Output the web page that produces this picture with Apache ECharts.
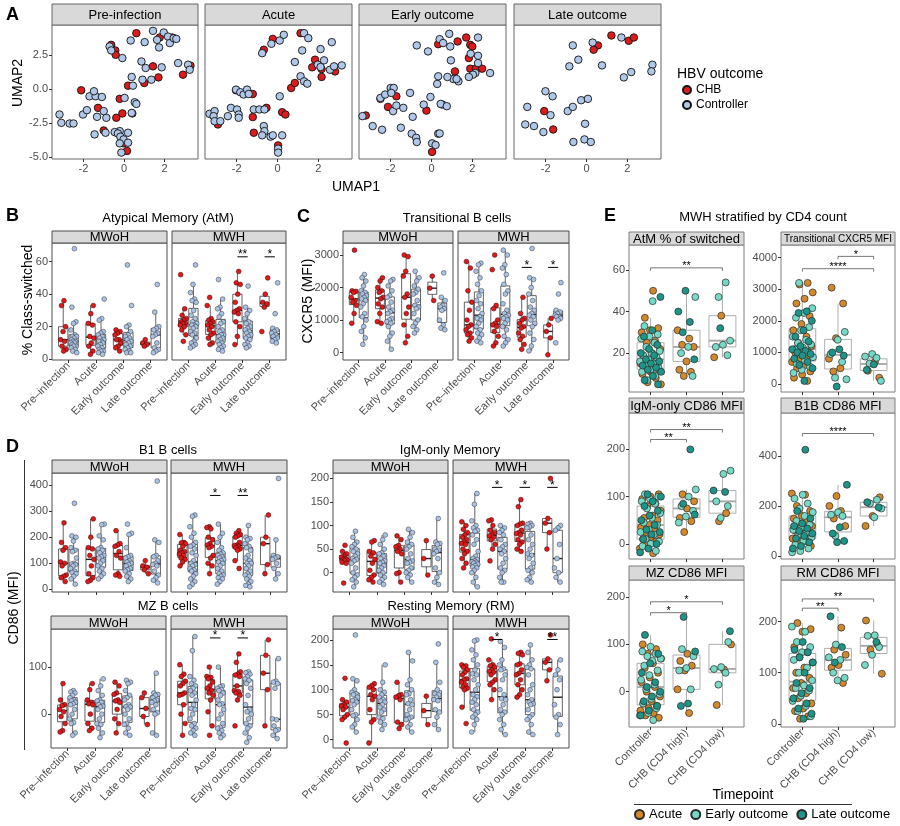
<!DOCTYPE html>
<html>
<head>
<meta charset="UTF-8">
<title>B cell phenotypes by HBV outcome</title>
<script src="https://cdn.jsdelivr.net/npm/echarts@6/dist/echarts.min.js"></script>
<style>
  html, body { margin: 0; padding: 0; background: #fff; }
  #main { width: 900px; height: 826px; }
</style>
</head>
<body>
<div id="main"></div>
<script>
// ---------- data ----------
var timepoints = ['Pre\u2013infection', 'Acute', 'Early outcome', 'Late outcome'];
var eGroups = ['Controller', 'CHB (CD4 high)', 'CHB (CD4 low)'];

// A: UMAP coordinates [UMAP1, UMAP2]
var umapPreCtrl = [[-3.18,-1.88],[-3.09,-2.49],[-2.68,-2.54],[-2.49,-2.54],[-1.70,-0.54],[-2.02,-1.88],[-1.83,-1.56],[-1.33,-2.05],[-1.40,-0.54],[-1.09,-0.59],[-0.87,-2.12],[-1.00,-1.63],[-1.48,-0.17],[-0.71,3.12],[-0.63,2.83],[-0.21,-3.10],[-0.46,-3.17],[-0.08,2.27],[-0.30,-3.27],[-0.18,-3.51],[-0.02,-3.71],[0.20,-3.22],[-0.21,-4.00],[-0.13,-4.68],[0.20,-3.95],[0.03,-0.66],[0.38,0.88],[0.44,0.24],[0.53,-0.98],[0.61,-1.10],[0.38,-1.76],[0.33,3.56],[1.02,3.44],[1.43,4.27],[1.63,3.61],[1.73,3.05],[1.96,4.15],[2.17,3.85],[2.26,3.37],[2.45,3.73],[2.58,3.68],[0.86,2.02],[1.07,1.54],[0.91,0.68],[1.35,0.68],[1.86,1.59],[2.67,1.90],[3.16,1.78],[3.24,1.41],[-0.91,-3.22],[-1.45,-3.34]];
var umapPreChb = [[-2.11,-0.10],[-0.63,3.24],[-0.43,2.83],[-0.41,2.51],[0.61,4.10],[-1.28,-1.39],[-0.38,-2.12],[-0.21,-0.73],[0.20,0.24],[-0.08,-1.80],[0.41,-1.80],[-1.00,-3.05],[0.15,-4.56],[1.00,0.44],[1.43,1.66],[1.70,0.85],[1.76,3.78],[2.39,3.78],[2.91,1.05],[3.28,1.71],[-0.02,-4.00]];
var umapAcuteCtrl = [[-3.33,-1.83],[-3.08,-1.63],[-3.13,-2.00],[-3.08,-2.37],[-2.80,-2.37],[-2.43,-2.00],[-2.28,-1.39],[-1.98,-1.51],[-1.90,-1.88],[-1.90,-2.12],[-2.03,-0.05],[-1.82,-0.24],[-1.66,-0.41],[-1.49,-0.05],[-1.41,-0.37],[-1.16,-1.51],[-0.89,-1.51],[-0.64,-1.51],[-0.67,-2.73],[-0.64,-3.10],[-0.75,-3.41],[-0.34,-3.51],[-0.23,-3.41],[0.23,-3.41],[0.03,-4.39],[0.03,-4.68],[0.11,-0.54],[-0.75,2.63],[-0.30,3.32],[0.11,3.56],[0.31,3.98],[1.30,4.10],[1.51,3.73],[1.21,2.83],[0.85,1.98],[1.13,0.93],[1.30,0.56],[1.46,0.39],[2.11,2.93],[2.28,2.10],[1.97,1.78],[2.11,1.61],[2.66,3.44],[2.57,1.41],[2.77,1.66],[3.15,1.73]];
var umapAcuteChb = [[-2.92,-2.61],[-2.03,-0.10],[-1.21,-0.37],[-1.21,-2.07],[-1.16,-3.22],[-0.54,-1.39],[-0.23,3.68],[-0.67,2.88],[0.23,-1.71],[0.39,-1.88],[0.03,-4.15],[0.67,0.07],[0.85,0.44],[1.13,4.10],[1.84,2.15],[1.70,1.59],[2.16,1.46],[2.16,0.88],[2.82,1.29]];
var umapEarlyCtrl = [[-3.38,-2.00],[-2.88,-2.73],[-2.42,-3.00],[-2.50,-0.66],[-2.27,-0.41],[-2.00,0.07],[-1.85,0.07],[-1.97,-0.29],[-1.88,-1.63],[-1.72,-1.22],[-1.38,-1.39],[-1.50,-2.85],[-1.05,-0.29],[-0.92,-2.05],[-0.97,-3.29],[-0.75,-3.59],[-0.72,-3.90],[-0.38,-1.15],[-0.05,-0.59],[0.03,-4.00],[0.20,-4.12],[0.33,-3.29],[0.28,0.37],[0.33,0.93],[0.53,-1.15],[-0.72,3.20],[-0.17,2.76],[0.40,3.66],[0.87,4.05],[0.57,3.37],[0.92,3.12],[0.95,2.10],[2.28,3.78],[1.92,2.59],[2.28,2.44],[2.28,1.90],[2.87,1.17],[2.15,1.17],[2.03,1.05],[1.83,0.88],[1.32,0.56],[1.07,0.73],[1.23,0.73],[0.78,0.88],[0.45,-1.10],[0.75,-1.27],[0.40,-3.27]];
var umapEarlyChb = [[-2.50,-0.73],[-2.13,-1.32],[-1.72,-0.54],[-3.22,-1.95],[-0.25,-1.59],[0.03,-4.63],[0.33,3.29],[1.28,3.49],[1.70,3.78],[1.90,3.24],[2.00,3.12],[1.83,2.27],[1.15,1.29],[1.90,1.49],[2.17,1.49],[2.48,1.49]];
var umapLateCtrl = [[-0.67,3.20],[0.30,3.41],[1.71,3.78],[-0.40,2.15],[-0.84,1.66],[0.76,1.73],[1.83,0.85],[2.19,1.24],[3.23,1.78],[3.18,1.29],[-2.01,-0.17],[-1.66,-0.54],[-2.90,-1.32],[-1.76,-1.93],[-0.92,-1.63],[-0.67,-1.32],[-0.26,-0.83],[0.07,-0.73],[-3.00,-2.61],[-2.57,-2.73],[-2.11,-3.17],[-0.07,-2.56],[-0.64,-3.90],[-0.10,-3.71],[0.21,-3.90]];
var umapLateChb = [[1.22,3.93],[0.56,3.20],[0.35,2.88],[2.07,3.54],[2.32,3.78],[-2.07,-1.63],[-1.63,-2.98]];

// B: AtM % class-switched, per timepoint
var atmWoChb = [[36,33,20,17,12,11,8,6,5],[33,28,22,21,14,13,10,8,5,3],[18,17,16,15,12,12,10,8,7,5],[12,10,9,8]];
var atmWoCtrl = [[68,32,23,22,18,15,14,14,13,12,11,11,10,10,9,8,8,7,6,5,4],[37,25,24,17,16,15,14,13,12,11,11,10,9,8,7,6,5,5,4,3],[58,33,21,20,17,15,14,13,12,11,10,9,8,7,6,5,4,4],[46,29,20,19,18,16,15,14,10,7,6,5,4]];
var atmWhChb = [[52,31,27,25,24,23,22,22,21,20,18,15,11],[38,33,25,24,23,22,21,20,18,16,15,13,10,9],[54,47,46,40,35,31,30,29,28,23,20,14,9],[50,40,35,34,32,17]];
var atmWhCtrl = [[58,46,41,37,36,35,30,27,25,23,22,21,21,20,19,17,16,15,13,11,10,9,8,7],[49,37,32,31,28,26,23,22,20,18,17,15,15,14,13,12,11,10,9,8,7,6,5],[45,32,30,28,25,23,22,20,19,18,17,16,15,14,13,12,10,9,8,7],[47,28,19,18,17,16,15,14,13,12,11,10]];

// C: Transitional B cells CXCR5 MFI
var cxWoChb = [[3150,1900,1880,1850,1700,1600,1550,1450,1200,900],[2300,2200,2000,1900,1850,1700,1650,1500,1400,1200,950,900],[3000,2950,2500,2350,1800,1700,1400,1200,850,500,300],[2350,1980,1600]];
var cxWoCtrl = [[2400,2300,2200,2050,1900,1850,1800,1750,1700,1650,1600,1500,1400,1200,1100,1000,800,650,450,250],[2250,2200,2050,1900,1750,1700,1550,1400,1300,1250,1200,1050,1000,950,900,800,600,500,350,100],[2500,2300,2200,2050,1950,1850,1800,1600,1450,1400,1350,1200,1000,900,800,700,600],[2450,1700,1600,1450,1400,1350,1300,1000,850,750,700]];
var cxWhChb = [[2800,2600,1900,1550,1300,1000,850,800,700,600,550,450,350],[3000,2550,1450,1350,1000,900,850,800,650,500,300,200],[1700,1200,1050,1000,900,800,750,600,500,400,250,100],[1050,850,650,450,-70]];
var cxWhCtrl = [[2750,2700,2500,2300,2100,1900,1750,1600,1500,1350,1200,1100,1050,1000,900,800,700,600,550,450,350,300],[3150,3000,2700,2600,2400,2100,1900,1800,1500,1300,1200,1150,1100,1050,1000,900,800,700,500,400,300,200],[3200,2300,2250,2000,1800,1600,1400,1300,1200,1150,1100,1000,900,800,600,400,200,50],[2150,1800,1300,1250,1200,1150,1100,1100,1050,1000,300]];

// D: CD86 MFI
var b1WoChb = [[255,180,160,150,105,100,90,55,50,45,30],[270,200,160,155,130,115,90,60,45,35,30],[225,175,170,165,145,130,120,60,55,50],[110,90,85,75,60]];
var b1WoCtrl = [[330,205,200,185,160,150,145,120,100,97,95,90,80,70,65,60,50,40,20],[250,248,205,190,160,155,150,140,130,125,120,110,100,90,80,70,60,50,40],[250,215,210,160,130,125,120,110,105,100,95,90,80,75,70,60,50,40,30],[415,190,180,130,125,110,100,95,90,70,55,45,35,25]];
var b1WhChb = [[210,180,178,175,165,150,145,140,135,130,120,115,105,90],[240,237,232,200,190,175,170,165,160,130,120,100,90,60],[225,215,210,205,200,180,170,168,165,160,155,150,110,80],[285,200,175,95,60]];
var b1WhCtrl = [[285,280,240,215,200,180,170,165,155,140,130,110,100,95,90,80,75,70,60,50,40,30,20,10],[250,215,200,180,160,150,140,135,130,125,120,115,110,105,100,90,80,70,60,55,50,45,40,30,20],[245,200,195,190,175,165,160,150,130,120,110,100,100,90,80,70,60,55,50,40,30,20,15,10],[425,190,130,125,120,115,100,80,60,40]];

var igWoChb = [[58,45,40,35,33,30,28,27,25,22,20,-22],[68,65,45,42,35,28,20,5,-5,-10,-15,-20],[78,70,58,55,50,45,40,0,-2,-20],[68,30,-5]];
var igWoCtrl = [[88,75,65,60,55,50,45,40,35,30,28,25,20,10,0,-5,-10,-15,-20,-30],[80,70,60,50,42,40,35,30,25,22,20,15,10,5,0,-5,-10,-15,-20,-25],[92,85,75,65,60,55,50,40,30,25,22,20,10,5,0,-5,-10,-20],[115,65,62,60,50,48,45,40,30,10,0,-10,-20,-25]];
var igWhChb = [[108,100,92,85,80,75,70,65,62,60,50,45,40,30,20,10],[112,110,100,90,85,80,78,75,70,60,50,25],[155,140,105,103,100,90,85,83,80,70,65,60,50,45],[200,115,105,85,50]];
var igWhCtrl = [[168,145,110,100,95,90,88,80,70,60,45,35,30,28,25,23,22,20,18,15,12,10,5,0,-10,-20,-30],[100,95,90,85,80,70,60,55,50,45,40,30,20,10,5,0,-10,-20,-20],[105,103,100,97,95,80,70,60,50,40,37,30,20,10,5,0,-10,-15,-20],[100,95,90,60,30,10,0,-10,-20]];

var mzWoChb = [[65,30,20,18,10,5,-5,-20,-35,-38],[65,52,30,25,22,20,0,-20,-30,-35],[68,60,45,42,30,28,25,10,-10,-20,-40],[45,35,12,-5,-22]];
var mzWoCtrl = [[50,47,45,40,35,30,28,25,22,20,10,0,-10,-18,-20,-40,-45],[75,60,50,40,30,28,25,20,17,15,10,0,-10,-20,-22,-30,-40,-50],[72,68,65,50,40,35,30,20,16,15,10,0,-10,-20,-22,-30,-40,-45],[87,45,42,40,35,30,28,25,20,10,3,0,-40,-45]];
var mzWhChb = [[105,85,80,70,65,60,45,42,40,20,0,-20,-45],[100,80,78,75,68,60,55,50,45,40,30,5,-25,-45],[128,110,90,85,83,80,60,50,48,45,40,30,-25],[158,125,87,52,-25]];
var mzWhCtrl = [[165,135,80,72,65,60,55,50,45,40,30,20,12,10,0,-10,-20,-25,-30,-35,-40,-45],[100,60,58,55,52,50,45,40,30,22,20,10,0,-10,-20,-28,-30,-35,-40,-45,-50],[90,88,85,80,75,72,65,55,40,20,10,5,0,-10,-20,-25,-30,-40,-50,-60],[118,70,68,65,55,-10,-12,-25,-33,-35,-45,-52]];

var rmWoChb = [[123,80,75,70,67,65,60,50,45,40,-7],[112,108,105,100,90,87,80,60,40,35,-7],[115,90,88,85,80,35,30,22],[87,58,30]];
var rmWoCtrl = [[210,122,118,100,95,92,90,85,80,78,75,70,60,50,48,40,30,25,15],[150,115,100,95,90,85,80,77,75,70,65,60,55,45,42,35,30,20],[175,158,120,110,100,92,90,80,72,70,60,50,45,42,40,30,25,15],[192,155,115,100,92,90,85,80,78,60,55,45,30,20]];
var rmWhChb = [[150,148,145,140,135,130,122,120,115,110,105,103,100,65,32],[202,160,150,148,145,140,137,135,130,120,115,110,100,80],[175,173,170,152,150,140,133,130,120,110,100,90,85],[210,162,155,140,118]];
var rmWhCtrl = [[200,198,180,170,160,150,140,132,130,120,110,100,90,86,80,75,70,60,55,50,45,40,30,15],[197,185,160,150,142,140,130,120,100,90,82,80,70,60,55,50,40,30,20,10],[190,175,160,150,145,142,130,110,100,90,80,75,72,70,60,50,45,40,30,15,10],[160,140,130,120,100,70,50,45,30,10]];

// E: MWH stratified by CD4 count; A = acute, E = early outcome, L = late outcome
var eAtmCtrl = {A:[50,37,32,31,30,26,25,22,20,18,17,16,15,14,13,12,11,10,8,6,5], E:[45,33,29,28,27,25,23,21,20,19,18,17,16,15,14,13,12,11,9,7], L:[47,31,28,24,22,20,19,17,16,15,14,13,12,11,9,7,5]};
var eAtmHigh = {A:[31,27,24,23,16,12,11,9], E:[47,23,20,9], L:[50,40,35,30,17]};
var eAtmLow = {A:[38,18], E:[54,47,26,24,23,19], L:[32]};
var eCxCtrl = {A:[3200,3150,2900,2700,2550,2150,1900,1700,1500,1300,1200,1100,1000,900,800,700,600,500,400,300,200,100], E:[3200,2400,2250,2100,1800,1700,1500,1400,1300,1250,1150,1100,1000,950,850,750,650,550,450,350], L:[2300,2250,2000,1700,1500,1350,1200,1100,1050,1000,950,900,800,700,600,500,100]};
var eCxHigh = {A:[3050,2550,1450,800,500,400], E:[1650,1400,950,700,200,150], L:[1100,1000,900,-80]};
var eCxLow = {A:[700,420,200], E:[950,870,830,650,100], L:[620,450]};
var eIgCtrl = {A:[105,100,95,85,80,70,60,55,50,40,35,30,25,20,15,10,5,0,-10,-20], E:[105,100,95,90,85,75,65,55,45,40,30,25,20,10,5,0,-5,-15], L:[105,100,90,80,70,60,50,40,30,25,20,10,0,-10,-18]};
var eIgHigh = {A:[105,90,75,55,48,25], E:[115,100,80,70,58,45], L:[200,85,62]};
var eIgLow = {A:[65,48], E:[155,148,90,80,55], L:[113,110]};
var eB1Ctrl = {A:[250,245,200,180,160,150,140,130,120,110,100,90,80,70,60,50,40], E:[245,230,210,190,175,160,140,125,115,105,95,85,75,60,45,30,20,15], L:[425,180,150,130,120,110,100,90,80,70,55,40,30]};
var eB1High = {A:[240,200,180,150,120], E:[175,165,160,80], L:[285,115,90,60,55]};
var eB1Low = {A:[235,160,120], E:[225,210,190,155], L:[215,195]};
var eMzCtrl = {A:[100,90,80,70,60,50,40,30,20,10,0,-10,-20,-25,-30,-35,-40,-45,-50,-55], E:[95,85,80,75,70,65,55,45,35,25,15,5,-5,-15,-25,-35,-45,-50,-60], L:[120,80,60,40,20,10,0,-10,-20,-30,-40,-50]};
var eMzHigh = {A:[80,65,55,45,5,-45], E:[90,75,50,45,5], L:[158,85,-25,-30]};
var eMzLow = {A:[100,47,-28], E:[105,52,48,40,15], L:[128]};
var eRmCtrl = {A:[197,185,180,150,140,130,120,110,100,90,80,70,60,50,40,30,25,15,10], E:[190,180,160,150,140,125,110,100,85,75,70,65,55,45,35,25,15], L:[160,145,140,130,120,100,80,70,60,50,40,30,20,10]};
var eRmHigh = {A:[188,145,135,115,110,80], E:[155,130,125,100,90,85], L:[210,150,120]};
var eRmLow = {A:[202,155,145,98], E:[173,172,150,135,115], L:[160]};

// ---------- helpers ----------
var FONT = '"Liberation Sans", Arial, Helvetica, sans-serif';
var RED = '#DD1B1B', BLUE = '#A9C3E6';
var TPCOL = {A: '#D3892B', E: '#76D9C6', L: '#1E9387'};
var TPNAME = {A: 'Acute', E: 'Early outcome', L: 'Late outcome'};

var grids = [], xAxes = [], yAxes = [], series = [], graphics = [];

function txt(x, y, s, o) {
  o = o || {};
  graphics.push({
    type: 'text', x: x, y: y, rotation: o.rot || 0, silent: true, z: 20,
    style: {
      text: s, fill: o.color || '#000',
      font: (o.bold ? 'bold ' : '') + (o.size || 13) + 'px ' + FONT,
      textAlign: o.align || 'center', align: o.align || 'center',
      textVerticalAlign: 'middle', verticalAlign: 'middle'
    }
  });
}
function strip(l, r, t, b, label, o) {
  graphics.push({type: 'rect', silent: true, z: 15, shape: {x: l, y: t, width: r - l, height: b - t},
    style: {fill: '#D9D9D9', stroke: o.stroke, lineWidth: 1}});
  txt((l + r) / 2, (t + b) / 2 + 0.5, label, {size: o.size});
}
function hline(x1, x2, y, c) {
  graphics.push({type: 'line', silent: true, z: 15, shape: {x1: x1, y1: y, x2: x2, y2: y}, style: {stroke: c, lineWidth: 1}});
}
function vline(x, y1, y2, c) {
  graphics.push({type: 'line', silent: true, z: 15, shape: {x1: x, y1: y1, x2: x, y2: y2}, style: {stroke: c, lineWidth: 1}});
}

function panel(p) {
  var gi = grids.length;
  grids.push({left: p.l, top: p.t, width: p.r - p.l, height: p.b - p.t, show: true,
    borderColor: p.border, borderWidth: 1, backgroundColor: '#fff'});
  var lab = {fontSize: 11, color: '#4D4D4D', fontFamily: FONT, margin: 4};
  xAxes.push({gridIndex: gi, type: 'value', min: p.x[0], max: p.x[1], position: 'bottom',
    splitLine: {show: false}, axisLine: {show: false, onZero: false},
    axisTick: {show: true, length: 3, customValues: p.xt, lineStyle: {color: '#333'}},
    axisLabel: Object.assign({}, lab, {show: !!p.xlab, customValues: p.xt, rotate: p.xrot || 0,
      formatter: p.xlab || function (v) { return String(v); }})});
  yAxes.push({gridIndex: gi, type: 'value', min: p.y[0], max: p.y[1], position: 'left',
    splitLine: {show: false}, axisLine: {show: false, onZero: false},
    axisTick: {show: !!p.ylab, length: 3, customValues: p.yt, lineStyle: {color: '#333'}},
    axisLabel: Object.assign({}, lab, {show: !!p.ylab, customValues: p.yt,
      formatter: p.ylab || function (v) { return String(v); }})});
  return gi;
}

function quant(arr, p) {
  var s = arr.slice().sort(function (a, b) { return a - b; });
  var h = (s.length - 1) * p, lo = Math.floor(h), hi = Math.ceil(h);
  return s[lo] + (s[hi] - s[lo]) * (h - lo);
}
function boxStats(arr) {
  var q1 = quant(arr, 0.25), md = quant(arr, 0.5), q3 = quant(arr, 0.75), iqr = q3 - q1;
  var lo = Infinity, hi = -Infinity;
  arr.forEach(function (v) {
    if (v >= q1 - 1.5 * iqr && v < lo) lo = v;
    if (v <= q3 + 1.5 * iqr && v > hi) hi = v;
  });
  return [lo, q1, md, q3, hi];
}
// spread points sideways (deterministic jitter)
function jit(i, w, seed) { return (((i + 1) * 0.6180339 + seed) % 1 - 0.5) * 2 * w; }

function addBoxes(gi, items, stroke, fill, w, lw) {
  series.push({type: 'custom', xAxisIndex: gi, yAxisIndex: gi, z: 2, silent: true,
    dimensions: ['x', 'lo', 'q1', 'md', 'q3', 'hi'], encode: {x: 0, y: [1, 2, 3, 4, 5]}, data: items,
    renderItem: function (params, api) {
      var x = api.value(0);
      var lo = api.coord([x, api.value(1)]), q1 = api.coord([x, api.value(2)]),
          md = api.coord([x, api.value(3)]), q3 = api.coord([x, api.value(4)]), hi = api.coord([x, api.value(5)]);
      var hw = api.size([w, 0])[0] / 2, cx = lo[0];
      var st = {stroke: stroke, lineWidth: lw};
      return {type: 'group', children: [
        {type: 'line', shape: {x1: cx, y1: hi[1], x2: cx, y2: q3[1]}, style: st},
        {type: 'line', shape: {x1: cx, y1: q1[1], x2: cx, y2: lo[1]}, style: st},
        {type: 'rect', shape: {x: cx - hw, y: q3[1], width: 2 * hw, height: q1[1] - q3[1]}, style: {fill: fill, stroke: stroke, lineWidth: lw}},
        {type: 'line', shape: {x1: cx - hw, y1: md[1], x2: cx + hw, y2: md[1]}, style: {stroke: stroke, lineWidth: lw * 2}}
      ]};
    }});
}
function addPts(gi, name, pts, color, size, bc, bw) {
  series.push({type: 'scatter', name: name, xAxisIndex: gi, yAxisIndex: gi, z: 3, silent: true,
    symbol: 'circle', symbolSize: size, data: pts,
    itemStyle: {color: color, borderColor: bc, borderWidth: bw, opacity: 1}});
}
function addSig(gi, list, o) {
  series.push({type: 'custom', xAxisIndex: gi, yAxisIndex: gi, z: 4, silent: true,
    dimensions: ['x1', 'x2', 'y'], encode: {x: [0, 1], y: 2},
    data: list.map(function (s) { return [s[0], s[1], s[2]]; }),
    renderItem: function (params, api) {
      var lab = list[params.dataIndex][3];
      var a = api.coord([api.value(0), api.value(2)]), b = api.coord([api.value(1), api.value(2)]);
      var st = {stroke: o.color, lineWidth: o.lw};
      var ch = [{type: 'line', shape: {x1: a[0], y1: a[1], x2: b[0], y2: b[1]}, style: st}];
      if (o.tip) {
        ch.push({type: 'line', shape: {x1: a[0], y1: a[1], x2: a[0], y2: a[1] + o.tip}, style: st});
        ch.push({type: 'line', shape: {x1: b[0], y1: b[1], x2: b[0], y2: b[1] + o.tip}, style: st});
      }
      ch.push({type: 'text', style: {text: lab, x: (a[0] + b[0]) / 2, y: a[1] + o.dy, fill: '#000',
        font: o.size + 'px ' + FONT, textAlign: 'center', align: 'center', textVerticalAlign: 'middle', verticalAlign: 'middle'}});
      return {type: 'group', children: ch};
    }});
}

// ---------- A: UMAP ----------
var umapFacets = [
  {label: 'Pre-infection', l: 52, r: 198, ctrl: umapPreCtrl, chb: umapPreChb},
  {label: 'Acute', l: 205, r: 352, ctrl: umapAcuteCtrl, chb: umapAcuteChb},
  {label: 'Early outcome', l: 359, r: 506, ctrl: umapEarlyCtrl, chb: umapEarlyChb},
  {label: 'Late outcome', l: 514, r: 661, ctrl: umapLateCtrl, chb: umapLateChb}
];
umapFacets.forEach(function (f, k) {
  var gi = panel({l: f.l, r: f.r, t: 25, b: 159, x: [-3.55, 3.65], xt: [-2, 0, 2],
    xlab: function (v) { return String(v); }, y: [-5.15, 4.7], yt: [-5, -2.5, 0, 2.5],
    ylab: k === 0 ? function (v) { return v.toFixed(1); } : null, border: '#666'});
  strip(f.l, f.r, 4, 25, f.label, {size: 13, stroke: '#666'});
  addPts(gi, 'CHB', f.chb, RED, 7.5, '#111', 0.9);
  addPts(gi, 'Controller', f.ctrl, '#AFC7E8', 7.5, '#111', 0.9);
});
txt(6, 15, 'A', {size: 18, bold: true, align: 'left'});
txt(18, 83, 'UMAP2', {size: 14, rot: Math.PI / 2});
txt(356, 187, 'UMAP1', {size: 14});
txt(677, 74, 'HBV outcome', {size: 14, align: 'left'});

// ---------- B, C, D ----------
function tpLabel(v) { return timepoints[Math.round(v) - 1]; }
function bdBlock(cfg) {
  [0, 1].forEach(function (k) {
    var l = cfg.lr[k][0], r = cfg.lr[k][1];
    var gi = panel({l: l, r: r, t: cfg.top, b: cfg.bot, x: [0.4, 4.6], xt: [1, 2, 3, 4],
      xlab: cfg.xlab ? tpLabel : null, xrot: 45, y: cfg.y, yt: cfg.yt,
      ylab: k === 0 ? function (v) { return String(v); } : null, border: '#4D4D4D'});
    strip(l, r, cfg.stripTop, cfg.top, k ? 'MWH' : 'MWoH', {size: 13, stroke: '#4D4D4D'});
    var chb = cfg.chb[k], ctrl = cfg.ctrl[k], boxes = [], pChb = [], pCtrl = [];
    for (var c = 0; c < 4; c++) {
      boxes.push([c + 1 - 0.19].concat(boxStats(chb[c])));
      boxes.push([c + 1 + 0.19].concat(boxStats(ctrl[c])));
      chb[c].forEach(function (v, i) { pChb.push([c + 1 - 0.19 + jit(i, 0.12, c * 0.29 + k * 0.5), v]); });
      ctrl[c].forEach(function (v, i) { pCtrl.push([c + 1 + 0.19 + jit(i, 0.12, c * 0.37 + k * 0.2), v]); });
    }
    addBoxes(gi, boxes, '#222', '#fff', 0.34, 0.7);
    addPts(gi, 'CHB', pChb, RED, 4.8, '#3a0000', 0.5);
    addPts(gi, 'Controller', pCtrl, BLUE, 4.8, '#333', 0.5);
    if (k === 1 && cfg.sig.length) {
      addSig(gi, cfg.sig.map(function (s) { return [s[0] - 0.19, s[0] + 0.19, s[1], s[2]]; }),
        {color: '#000', lw: 1, dy: -2, size: 12});
    }
  });
}
// B
bdBlock({lr: [[52, 167], [172, 286]], top: 243, bot: 360, stripTop: 231, y: [-0.5, 71.5], yt: [0, 20, 40, 60],
  xlab: true, chb: [atmWoChb, atmWhChb], ctrl: [atmWoCtrl, atmWhCtrl], sig: [[3, 63, '**'], [4, 63, '*']]});
txt(6, 216, 'B', {size: 18, bold: true, align: 'left'});
txt(168, 218, 'Atypical Memory (AtM)', {size: 13});
txt(28, 300, '% Class-switched', {size: 14, rot: Math.PI / 2});
// C
bdBlock({lr: [[343, 453], [458, 569]], top: 243, bot: 360, stripTop: 231, y: [-230, 3370], yt: [0, 1000, 2000, 3000],
  xlab: true, chb: [cxWoChb, cxWhChb], ctrl: [cxWoCtrl, cxWhCtrl], sig: [[3, 2620, '*'], [4, 2620, '*']]});
txt(297, 217, 'C', {size: 18, bold: true, align: 'left'});
txt(457, 218, 'Transitional B cells', {size: 13});
txt(308, 301, 'CXCR5 (MFI)', {size: 14, rot: Math.PI / 2});
// D
bdBlock({lr: [[52, 167], [171, 287]], top: 473, bot: 592, stripTop: 460, y: [-10, 446], yt: [0, 100, 200, 300, 400],
  xlab: false, chb: [b1WoChb, b1WhChb], ctrl: [b1WoCtrl, b1WhCtrl], sig: [[2, 360, '*'], [3, 360, '**']]});
bdBlock({lr: [[333, 448], [453, 569]], top: 473, bot: 592, stripTop: 460, y: [-41, 211.5], yt: [0, 50, 100, 150, 200],
  xlab: false, chb: [igWoChb, igWhChb], ctrl: [igWoCtrl, igWhCtrl], sig: [[2, 181, '*'], [3, 181, '*'], [4, 181, '*']]});
bdBlock({lr: [[51, 166], [171, 287]], top: 629, bot: 748, stripTop: 616, y: [-72, 181], yt: [0, 100],
  xlab: true, chb: [mzWoChb, mzWhChb], ctrl: [mzWoCtrl, mzWhCtrl], sig: [[2, 162, '*'], [3, 162, '*']]});
bdBlock({lr: [[333, 448], [453, 569]], top: 629, bot: 748, stripTop: 616, y: [-17, 222], yt: [0, 50, 100, 150, 200],
  xlab: true, chb: [rmWoChb, rmWhChb], ctrl: [rmWoCtrl, rmWhCtrl], sig: [[2, 201, '*'], [4, 201, '**']]});
txt(6, 447, 'D', {size: 18, bold: true, align: 'left'});
txt(168, 450, 'B1 B cells', {size: 13});
txt(450, 450, 'IgM-only Memory', {size: 13});
txt(168, 606, 'MZ B cells', {size: 13});
txt(451, 606, 'Resting Memory (RM)', {size: 13});
txt(14, 608, 'CD86 (MFI)', {size: 14, rot: Math.PI / 2});
vline(24.5, 460, 750, '#333');

// ---------- E ----------
var eCols = [[629, 744], [781, 895]];
var eRows = [[232, 245, 392], [398, 413, 559], [566, 580, 727]];
var ePanels = [
  {strip: 'AtM % of switched', fs: 13, col: 0, row: 0, y: [1.3, 72], yt: [20, 40, 60], groups: [eAtmCtrl, eAtmHigh, eAtmLow], sig: [[1, 3, 61, '**']]},
  {strip: 'Transitional CXCR5 MFI', fs: 10, col: 1, row: 0, y: [-252, 4400], yt: [0, 1000, 2000, 3000, 4000], groups: [eCxCtrl, eCxHigh, eCxLow], sig: [[1, 3, 3650, '****'], [2, 3, 4040, '*']]},
  {strip: 'IgM-only CD86 MFI', fs: 13, col: 0, row: 1, y: [-32, 277], yt: [0, 100, 200], groups: [eIgCtrl, eIgHigh, eIgLow], sig: [[1, 2, 221, '**'], [1, 3, 242, '**']]},
  {strip: 'B1B CD86 MFI', fs: 13, col: 1, row: 1, y: [-12, 572], yt: [0, 200, 400], groups: [eB1Ctrl, eB1High, eB1Low], sig: [[1, 3, 490, '****']]},
  {strip: 'MZ CD86 MFI', fs: 13, col: 0, row: 2, y: [-74.5, 236], yt: [0, 100, 200], groups: [eMzCtrl, eMzHigh, eMzLow], sig: [[1, 2, 167, '*'], [1, 3, 190, '*']]},
  {strip: 'RM CD86 MFI', fs: 13, col: 1, row: 2, y: [-6, 281], yt: [0, 100, 200], groups: [eRmCtrl, eRmHigh, eRmLow], sig: [[1, 2, 226, '**'], [1, 3, 244, '**']]}
];
ePanels.forEach(function (p, pi) {
  var l = eCols[p.col][0], r = eCols[p.col][1], row = eRows[p.row];
  var gi = panel({l: l, r: r, t: row[1], b: row[2], x: [0.4, 3.6], xt: [1, 2, 3],
    xlab: p.row === 2 ? function (v) { return eGroups[Math.round(v) - 1]; } : null, xrot: 45,
    y: p.y, yt: p.yt, ylab: function (v) { return String(v); }, border: '#7F7F7F'});
  strip(l, r, row[0], row[1], p.strip, {size: p.fs, stroke: '#7F7F7F'});
  var boxes = [], pts = {A: [], E: [], L: []};
  p.groups.forEach(function (g, c) {
    var all = g.A.concat(g.E, g.L);
    boxes.push([c + 1].concat(boxStats(all)));
    var n = 0;
    ['A', 'E', 'L'].forEach(function (t) {
      g[t].forEach(function (v) {
        pts[t].push([c + 1 + jit(n, c === 0 ? 0.3 : 0.26, pi * 0.13 + c * 0.41), v]);
        n++;
      });
    });
  });
  addBoxes(gi, boxes, '#A6A6A6', '#fff', 0.75, 0.9);
  ['A', 'E', 'L'].forEach(function (t) { addPts(gi, TPNAME[t], pts[t], TPCOL[t], 7, '#2b2b2b', 0.7); });
  addSig(gi, p.sig, {color: '#555', lw: 0.8, tip: 3, dy: -1.5, size: 11});
});
txt(604, 216, 'E', {size: 18, bold: true, align: 'left'});
txt(763, 217, 'MWH stratified by CD4 count', {size: 13});
txt(743, 795, 'Timepoint', {size: 14});
hline(634, 852, 804.5, '#333');

// ---------- chart ----------
var chart = echarts.init(document.getElementById('main'), null, {renderer: 'canvas'});
chart.setOption({
  backgroundColor: '#fff',
  animation: false,
  textStyle: {fontFamily: FONT},
  grid: grids,
  xAxis: xAxes,
  yAxis: yAxes,
  legend: [
    {data: ['CHB', 'Controller'], orient: 'vertical', left: 682, top: 84, padding: 0,
      itemWidth: 8, itemHeight: 8, itemGap: 3, icon: 'circle', selectedMode: false,
      textStyle: {fontSize: 12, color: '#000', fontFamily: FONT}},
    {data: ['Acute', 'Early outcome', 'Late outcome'], orient: 'horizontal', left: 634, top: 808, padding: 0,
      itemWidth: 9, itemHeight: 9, itemGap: 8, icon: 'circle', selectedMode: false,
      textStyle: {fontSize: 13, color: '#000', fontFamily: FONT}}
  ],
  series: series,
  graphic: graphics
});
</script>
</body>
</html>
